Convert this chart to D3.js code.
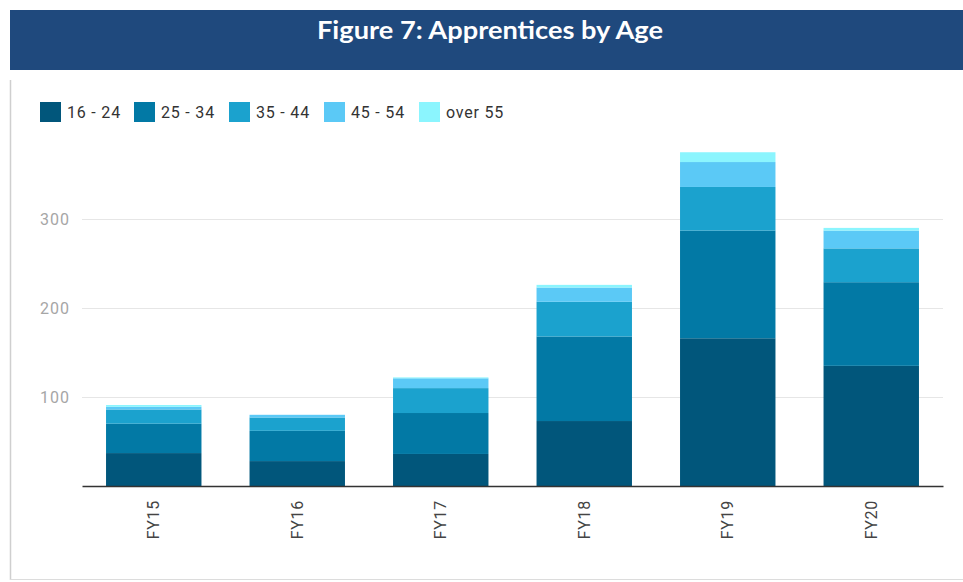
<!DOCTYPE html>
<html><head><meta charset="utf-8">
<script src="https://cdn.jsdelivr.net/npm/d3@7"></script>
<style>html,body{margin:0;padding:0;background:#fff;}svg{display:block;}</style>
</head><body>
<svg id="chart" width="963" height="582"></svg>
<script>
const categories = ["FY15","FY16","FY17","FY18","FY19","FY20"];
const seriesNames = ["16 - 24","25 - 34","35 - 44","45 - 54","over 55"];
const s16_24 = [37, 28, 36, 73, 166, 135];
const s25_34 = [33, 34, 46, 95, 121, 94];
const s35_44 = [16, 15, 28, 39, 49, 38];
const s45_54 = [3, 3, 11, 16, 28, 20];
const sOver55 = [2, 0, 1, 3, 11, 3];
const yTicks = [100, 200, 300];
const colors = ["#01567B","#0279A5","#1BA2CE","#5BC9F6","#8BF5FE"];

const seriesValues = [s16_24, s25_34, s35_44, s45_54, sOver55];
const rows = categories.map((c,i)=>{const r={cat:c}; seriesNames.forEach((s,j)=>r[s]=seriesValues[j][i]); return r;});
const stack = d3.stack().keys(seriesNames)(rows);

const svg = d3.select("#chart");
const left = 82, right = 943, base = 486;
const x = d3.scaleBand().domain(categories).range([left, right]).paddingInner(0.335).paddingOuter(0.1675);
const y = d3.scaleLinear().domain([0, 400]).range([base, base - 356]);

// title bar
svg.append("rect").attr("x",10).attr("y",10).attr("width",953).attr("height",60).attr("fill","#1F497D");
svg.append("text").attr("x",490).attr("y",39).attr("text-anchor","middle")
  .attr("font-family","Lato, 'Open Sans', sans-serif").attr("font-weight",700).attr("font-size",25)
  .attr("fill","#fff").attr("textLength",346).attr("lengthAdjust","spacingAndGlyphs")
  .text("Figure 7: Apprentices by Age");

// frame
svg.append("line").attr("x1",10.5).attr("x2",10.5).attr("y1",80).attr("y2",580).attr("stroke","#cfcfcf").attr("stroke-width",1.5);
svg.append("line").attr("x1",10).attr("x2",963).attr("y1",579.5).attr("y2",579.5).attr("stroke","#dcdcdc").attr("stroke-width",1);

// gridlines + y labels
const yAxis = d3.axisLeft(y).tickValues(yTicks).tickSize(-(right-left)).tickPadding(12);
const ga = svg.append("g").attr("transform",`translate(${left},0)`).call(yAxis);
ga.select(".domain").remove();
ga.selectAll(".tick line").attr("stroke","#e6e6e6").attr("stroke-width",1.2);
ga.selectAll(".tick text").attr("font-family","Roboto, sans-serif").attr("font-size",16).attr("letter-spacing","1px").attr("fill","#a6a6a6");

// bars
svg.append("g").selectAll("g").data(stack).join("g").attr("fill",(d,i)=>colors[i])
  .selectAll("rect").data(d=>d).join("rect")
  .attr("x",d=>x(d.data.cat)).attr("width",x.bandwidth())
  .attr("y",d=>y(d[1])).attr("height",d=>Math.max(0,y(d[0])-y(d[1])));

// x axis
const xAxis = d3.axisBottom(x).tickSize(0).tickPadding(0);
const gx = svg.append("g").attr("transform",`translate(0,${base})`).call(xAxis);
gx.select(".domain").attr("stroke","#333").attr("stroke-width",1.5);
gx.selectAll(".tick text").attr("font-family","Roboto, sans-serif").attr("font-size",16).attr("letter-spacing","0.7px").attr("fill","#444")
  .attr("transform","rotate(-90)").attr("text-anchor","end").attr("x",-14).attr("y",0).attr("dy","0.35em");

// legend
const legendX = [40, 134, 229, 324, 419];
const lg = svg.append("g").selectAll("g").data(seriesNames).join("g")
  .attr("transform",(d,i)=>`translate(${legendX[i]},102)`);
lg.append("rect").attr("width",21).attr("height",20).attr("fill",(d,i)=>colors[i]);
lg.append("text").attr("x",27).attr("y",16).attr("font-family","Roboto, sans-serif").attr("font-size",16).attr("letter-spacing","0.8px").attr("fill","#333").text(d=>d);
</script>
</body></html>
